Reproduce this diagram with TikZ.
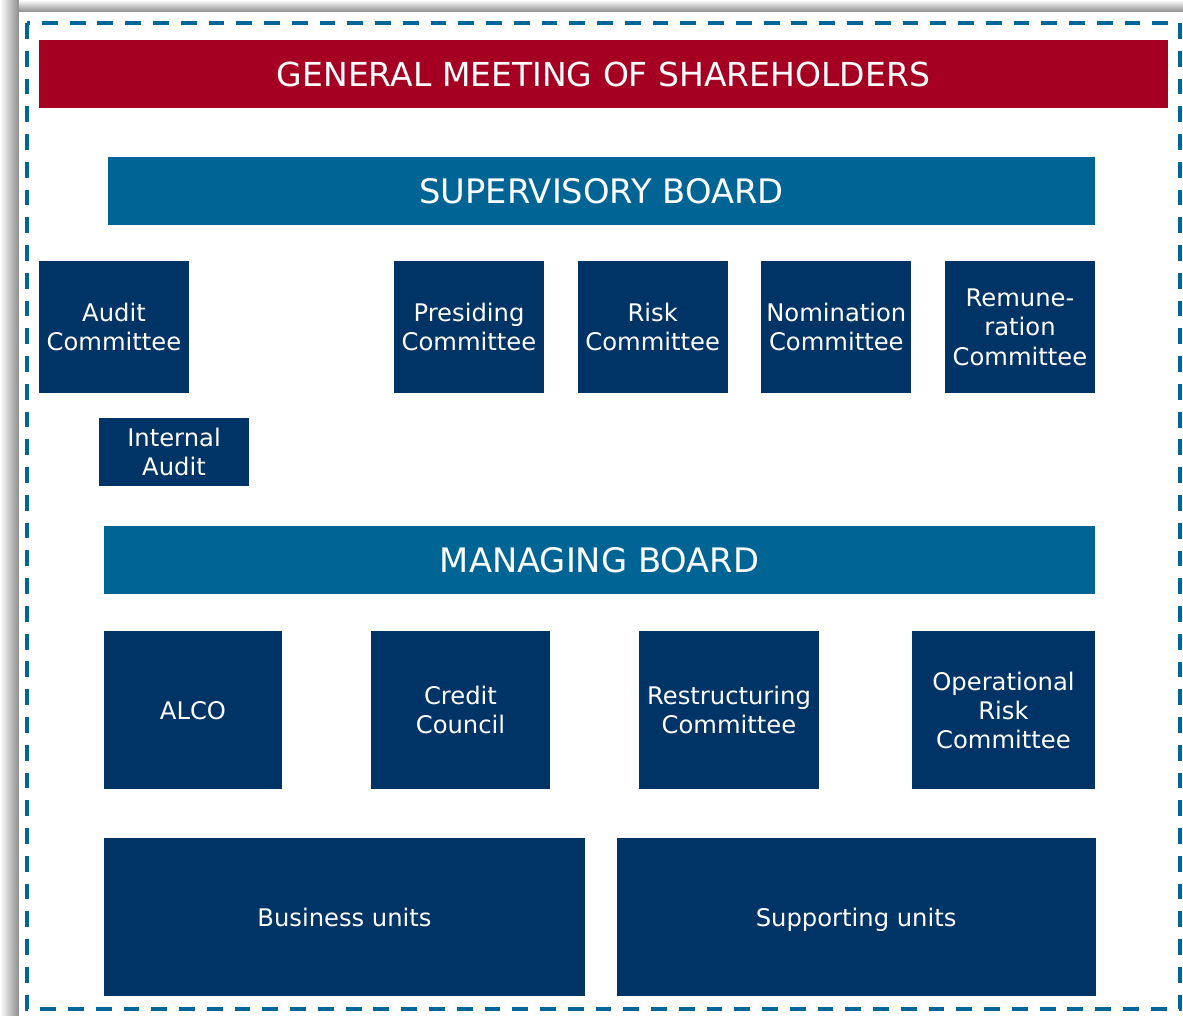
\documentclass[tikz,border=0pt]{standalone}
\usepackage{fontspec}
\setmainfont{DejaVu Sans}
\usetikzlibrary{positioning}
\definecolor{meetred}{HTML}{A50021}
\definecolor{boardblue}{HTML}{006495}
\definecolor{unitnavy}{HTML}{003366}
\definecolor{framblue}{HTML}{00669A}

\begin{document}
\begin{tikzpicture}[x=0.02cm, y=-0.02cm, node distance=0.66cm,
    headbar/.style={inner sep=0pt, text=white, minimum height=1.36cm,
                    font=\fontsize{19.2}{22}\selectfont},
    unitbox/.style={fill=unitnavy, inner sep=0pt, text=white, align=center,
                    text depth=0pt, font=\fontsize{13.8}{16.6}\selectfont}]
    \useasboundingbox (0,0) rectangle (1183,1016);
    % page shadow
    \shade[left color=white, right color=black!45] (0,0) rectangle (19,1016);
    \shade[top color=white, bottom color=black!45] (19,0) rectangle (1183,12);
    \fill[white] (19,12) rectangle (1183,1016);
    \draw[framblue, line width=2.6pt, dash pattern=on 9pt off 6.8pt]
        (27,23) rectangle (1180,1009);
    % boards
    \node[headbar, fill=meetred, minimum width=22.58cm,
          font=\fontsize{18.8}{22}\selectfont] (gms) at (603.5,74)
        {GENERAL MEETING OF SHAREHOLDERS};
    \node[headbar, fill=boardblue, minimum width=19.74cm] (sb) at (601.5,191)
        {SUPERVISORY BOARD};
    \node[headbar, fill=boardblue, minimum width=19.82cm] (mb) at (599.5,560)
        {MANAGING BOARD};
    % supervisory committees
    \node[unitbox, minimum width=3cm, minimum height=2.64cm] (audit) at (114,327)
        {Audit\\Committee};
    \node[unitbox, minimum width=3cm, minimum height=1.36cm] (intaudit) at (174,452)
        {Internal\\Audit};
    \node[unitbox, minimum width=3cm, minimum height=2.64cm] (presiding) at (469,327)
        {Presiding\\Committee};
    \node[unitbox, minimum width=3cm, minimum height=2.64cm, right=of presiding] (risk)
        {Risk\\Committee};
    \node[unitbox, minimum width=3cm, minimum height=2.64cm, right=of risk] (nomination)
        {Nomination\\Committee};
    \node[unitbox, minimum width=3cm, minimum height=2.64cm, right=of nomination] (remun)
        {Remune-\\ration\\Committee};
    % management committees
    \node[unitbox, minimum width=3.56cm, minimum height=3.16cm] (alco) at (193,710)
        {ALCO};
    \node[unitbox, minimum width=3.58cm, minimum height=3.16cm] (credit) at (460.5,710)
        {Credit\\Council};
    \node[unitbox, minimum width=3.6cm, minimum height=3.16cm] (restruct) at (729,710)
        {Restructuring\\Committee};
    \node[unitbox, minimum width=3.66cm, minimum height=3.16cm] (oprisk) at (1003.5,710)
        {Operational\\Risk\\Committee};
    % units
    \node[unitbox, minimum width=9.62cm, minimum height=3.16cm] (business) at (344.5,917)
        {Business units};
    \node[unitbox, minimum width=9.58cm, minimum height=3.16cm, right=0.62cm of business] (support)
        {Supporting units};
\end{tikzpicture}
\end{document}
